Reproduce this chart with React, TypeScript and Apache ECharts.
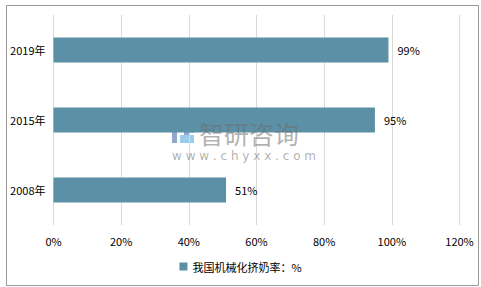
import React, { useEffect, useRef } from "react";
import * as echarts from "echarts";

const categories = ["2008年", "2015年", "2019年"];
const values = [51, 95, 99];
const seriesName = "我国机械化挤奶率：%";

export default function App() {
  const ref = useRef<HTMLDivElement>(null);
  useEffect(() => {
    if (!ref.current) return;
    const chart = echarts.init(ref.current, null, { renderer: "svg" });
    const font = "'Noto Sans CJK SC', 'Noto Sans', sans-serif";
    chart.setOption({
      animation: false,
      backgroundColor: "#ffffff",
      textStyle: { fontFamily: font },
      grid: { left: 53.5, right: 21.5, top: 15, bottom: 62, containLabel: false },
      legend: {
        bottom: 10,
        left: "center",
        icon: "rect",
        itemWidth: 8,
        itemHeight: 8,
        itemGap: 6,
        textStyle: { fontSize: 11, color: "#000", fontFamily: font },
        data: [seriesName],
      },
      xAxis: {
        type: "value",
        min: 0,
        max: 120,
        interval: 20,
        axisLine: { show: false },
        axisTick: { show: false },
        axisLabel: { formatter: "{value}%", fontSize: 11, color: "#000", margin: 10 },
        splitLine: { lineStyle: { color: "#d9d9d9", width: 1 } },
      },
      yAxis: {
        type: "category",
        data: categories,
        axisLine: { show: false },
        axisTick: { show: false },
        axisLabel: { fontSize: 11, color: "#000", margin: 8 },
      },
      series: [
        {
          name: seriesName,
          type: "bar",
          data: values,
          barWidth: 25,
          itemStyle: { color: "#5b90a6" },
          label: {
            show: true,
            position: "right",
            distance: 9,
            formatter: "{c}%",
            fontSize: 11,
            color: "#000",
          },
        },
      ],
      graphic: [
        {
          type: "rect",
          left: 4,
          top: 3,
          shape: { x: 0, y: 0, width: 472, height: 280 },
          style: { fill: "none", stroke: "#999", lineWidth: 1 },
          silent: true,
          z: 100,
        },
        {
          type: "group",
          left: 172,
          top: 122,
          z: 50,
          silent: true,
          children: [
            { type: "rect", shape: { x: 0, y: 0, width: 14, height: 4 }, style: { fill: "rgba(70,110,170,0.6)" } },
            { type: "rect", shape: { x: 0, y: 5, width: 5, height: 16 }, style: { fill: "rgba(70,110,170,0.6)" } },
            { type: "rect", shape: { x: 12, y: 4, width: 5, height: 9 }, style: { fill: "rgba(70,110,170,0.6)" } },
            { type: "rect", shape: { x: 8, y: 13, width: 14, height: 8 }, style: { fill: "rgba(90,170,220,0.6)" } },
            { type: "rect", shape: { x: 18, y: 0, width: 4, height: 11 }, style: { fill: "rgba(90,170,220,0.6)" } },
          ],
        },
        {
          type: "text",
          left: 199,
          top: 120,
          z: 50,
          silent: true,
          style: {
            text: "智研咨询",
            font: "25px 'Noto Sans CJK SC', sans-serif",
            fill: "rgba(110,110,110,0.55)",
            lineHeight: 25,
          },
        },
        {
          type: "text",
          left: 172,
          top: 149,
          z: 50,
          silent: true,
          style: {
            text: "w w w . c h y x x . c o m",
            font: "12px 'DejaVu Sans', sans-serif",
            fill: "rgba(110,110,110,0.55)",
            lineHeight: 13,
          },
        },
      ],
    });
    return () => chart.dispose();
  }, []);
  return (
    <div
      ref={ref}
      style={{ position: "fixed", left: 0, top: 0, width: 481, height: 287 }}
    />
  );
}
